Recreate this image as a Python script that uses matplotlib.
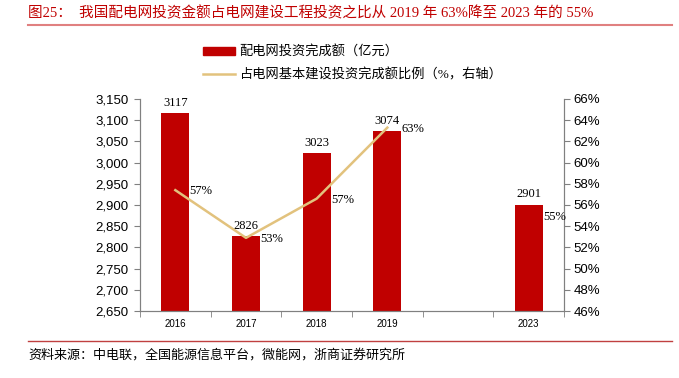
import matplotlib
matplotlib.use("Agg")
import matplotlib.pyplot as plt
from matplotlib.patches import Patch
from matplotlib.lines import Line2D
import numpy as np

# 数据
years = ["2016", "2017", "2018", "2019", "", "2023"]
invest = [3117, 2826, 3023, 3074, None, 2901]      # 配电网投资完成额（亿元）
ratio = [57.4, 52.9, 56.6, 63.3, None, 55.0]        # 占比（%）
ratio_labels = ["57%", "53%", "57%", "63%", None, "55%"]

RED = "#C00000"
GOLD = "#E2C27D"
CJK = ["Liberation Serif", "Noto Sans CJK SC"]

fig = plt.figure(figsize=(6.79, 3.78), dpi=100)
ax = fig.add_axes([140 / 679, 1 - 311 / 378, 424 / 679, 212 / 378])
ax2 = ax.twinx()

x = np.arange(len(years))
bar_x = [xi for xi, v in zip(x, invest) if v is not None]
bar_v = [v for v in invest if v is not None]
ax.bar(bar_x, bar_v, width=0.4, color=RED, zorder=2)
for xi, v in zip(bar_x, bar_v):
    ax.text(xi, v + 10, str(v), ha="center", va="bottom", fontsize=9,
            family="Liberation Serif")

ax.set_xlim(-0.5, len(years) - 0.5)
ax.set_ylim(2650, 3150)
ax.set_yticks(np.arange(2650, 3151, 50))
ax.set_yticklabels([f"{v:,}" for v in range(2650, 3151, 50)],
                   family="Liberation Sans", fontsize=9.5)
ax.set_xticks(x)
ax.set_xticklabels(years, family="Liberation Sans", fontsize=7)
ax.set_xticks(np.arange(-0.5, len(years)), minor=True)
ax.tick_params(axis="x", which="major", length=0, pad=6)
ax.tick_params(axis="x", which="minor", length=4, direction="out", color="#808080")
ax.tick_params(axis="y", length=4, color="#808080", pad=4)

# 折线（2023 与前面断开）
ax2.plot(x[:4], ratio[:4], color=GOLD, linewidth=1.8, zorder=3)
for xi, r, lab in zip(x, ratio, ratio_labels):
    if r is None:
        continue
    ax2.text(xi + 0.2, r - 0.1, lab, ha="left", va="center", fontsize=9,
             family="Liberation Serif")
ax2.set_ylim(46, 66)
ax2.set_yticks(np.arange(46, 67, 2))
ax2.set_yticklabels([f"{v}%" for v in range(46, 67, 2)],
                    family="Liberation Sans", fontsize=9.5)
ax2.tick_params(axis="y", length=4, color="#808080", pad=3)

for a in (ax, ax2):
    a.spines["top"].set_visible(False)
    for s in ("left", "right", "bottom"):
        a.spines[s].set_color("#808080")
        a.spines[s].set_linewidth(0.8)

# 图例
handles = [Patch(color=RED), Line2D([], [], color=GOLD, linewidth=1.8)]
labels = ["配电网投资完成额（亿元）", "占电网基本建设投资完成额比例（%，右轴）"]
fig.legend(handles, labels, loc="upper left", bbox_to_anchor=(198 / 679, 1 - 40 / 378),
           frameon=False, prop={"family": CJK, "size": 9.5}, handlelength=2.4,
           handleheight=0.55, handletextpad=0.35, labelspacing=0.75, borderaxespad=0)

# 标题与来源
fig.text(28 / 679, 1 - 13 / 378,
         "图25：  我国配电网投资金额占电网建设工程投资之比从 2019 年 63%降至 2023 年的 55%",
         color=RED, fontsize=10.5, family=CJK, va="center", ha="left")
fig.add_artist(Line2D([28 / 679, 672 / 679], [1 - 25 / 378] * 2, color="#E08080",
                      linewidth=1.5))
fig.add_artist(Line2D([28 / 679, 672 / 679], [1 - 341 / 378] * 2, color="#C04040",
                      linewidth=1))
fig.text(28 / 679, 1 - 355 / 378, "资料来源：中电联，全国能源信息平台，微能网，浙商证券研究所",
         fontsize=9.4, family=CJK, va="center", ha="left")

fig.savefig("out.png", dpi=100)
